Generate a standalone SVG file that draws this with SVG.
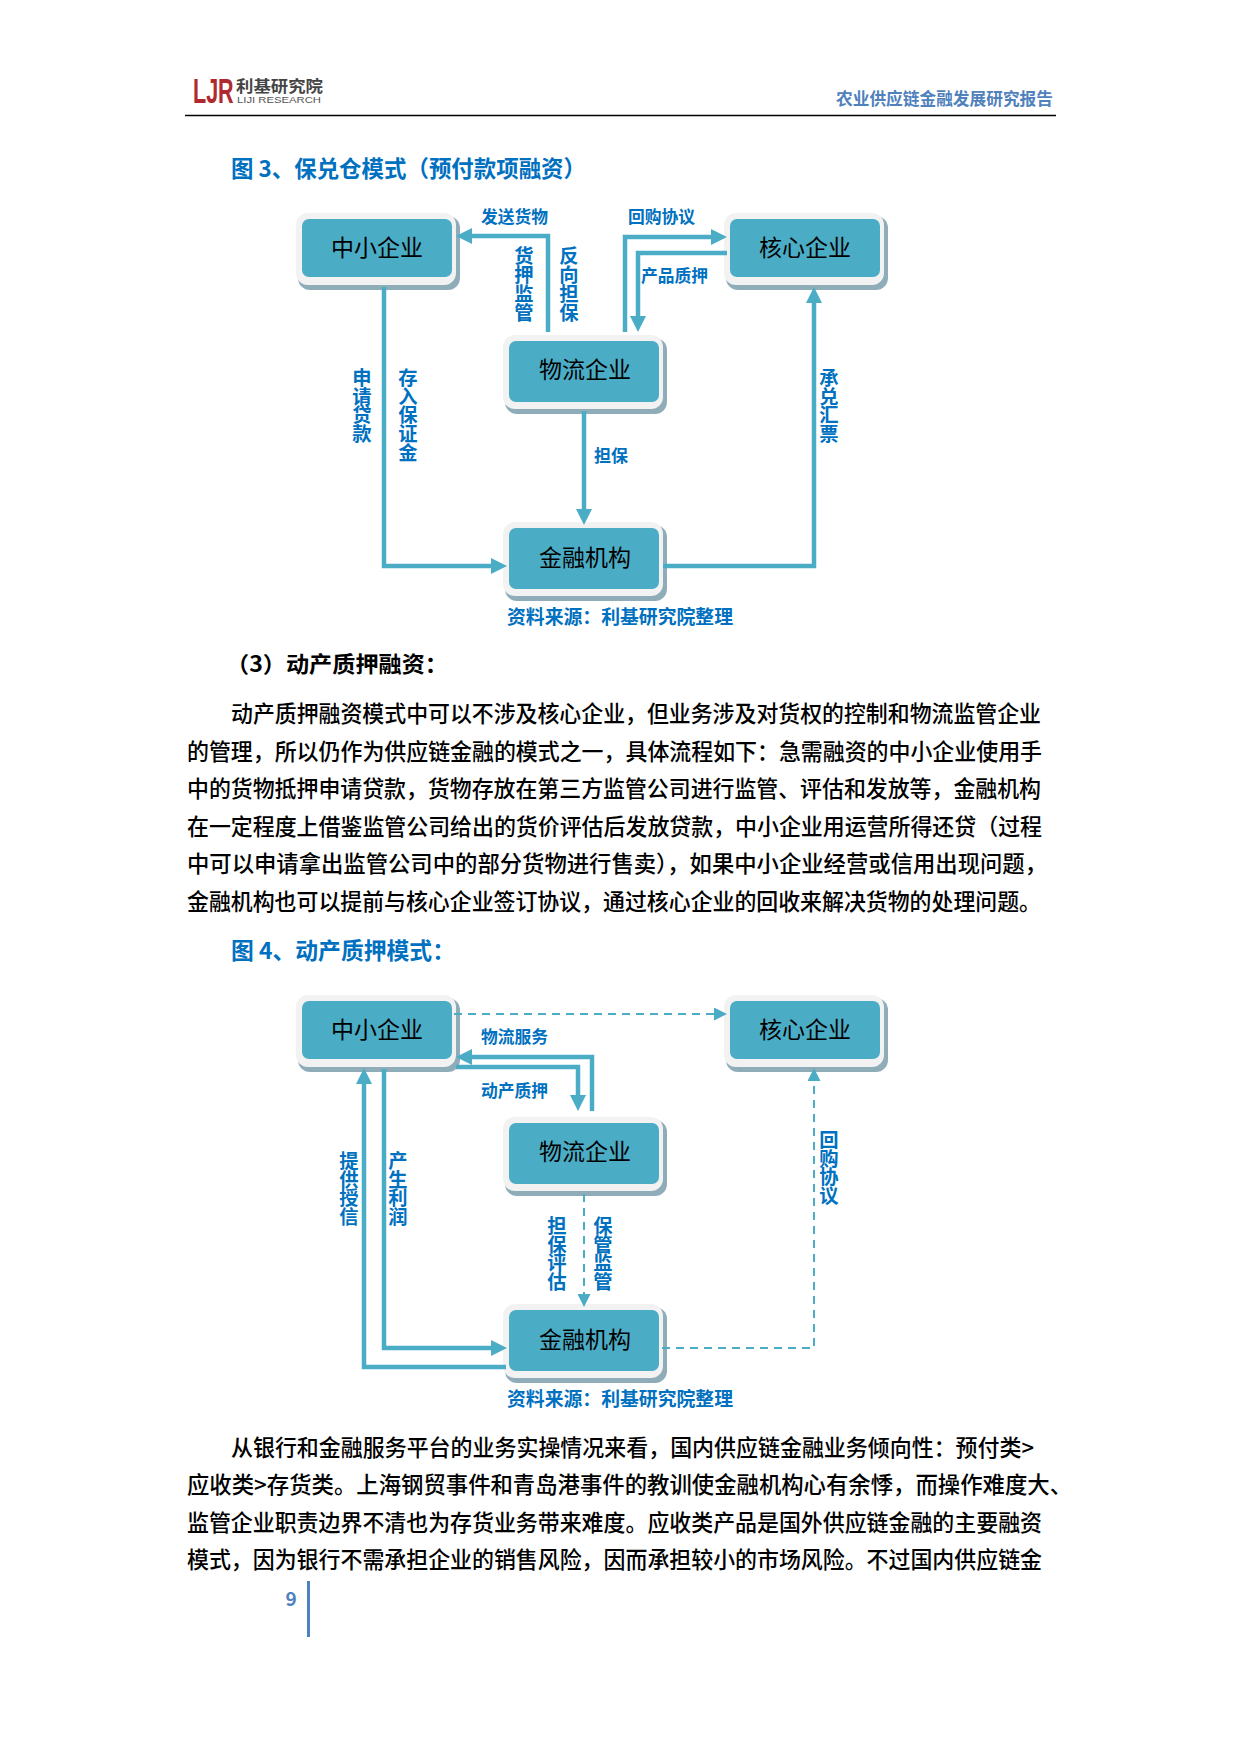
<svg xmlns="http://www.w3.org/2000/svg" width="1240" height="1754" viewBox="0 0 1240 1754">
<style>
text{font-family:"Noto Sans CJK SC","Liberation Sans",sans-serif;dominant-baseline:central}
.shadow{fill:#8fadb9}
.outer{fill:#f2f2f2}
.inner{fill:#4bacc6}
.nt{font-size:23px;fill:#000;text-anchor:middle}
.lb{font-size:17px;font-weight:700;fill:#0070c0}
.v{font-size:19.3px;font-weight:700;fill:#0070c0;text-anchor:middle}
.src{font-size:19px;font-weight:700;fill:#0070c0}
.cap{font-size:23px;font-weight:700;fill:#0070c0}
.body{font-size:22.5px;font-weight:500;fill:#000}
.sub{font-size:22px;font-weight:700;fill:#000}
.solid{fill:none;stroke:#4bacc6;stroke-width:4.5;marker-end:url(#big)}
.dash{fill:none;stroke:#4bacc6;stroke-width:2;stroke-dasharray:8 6;marker-end:url(#small)}
</style>
<defs>
<marker id="big" markerUnits="userSpaceOnUse" viewBox="0 0 16 16" markerWidth="16" markerHeight="16" refX="0" refY="8" orient="auto"><path d="M0 0L16 8L0 16Z" fill="#4bacc6"/></marker>
<marker id="small" markerUnits="userSpaceOnUse" viewBox="0 0 13 13" markerWidth="13" markerHeight="13" refX="0" refY="6.5" orient="auto"><path d="M0 0L13 6.5L0 13Z" fill="#4bacc6"/></marker>
<g id="box-wide">
<rect class="shadow" x="2" y="3" width="162" height="74" rx="12"/>
<rect class="outer" x="0" y="0" width="160" height="72" rx="12"/>
<rect class="inner" x="6" y="6" width="150" height="58" rx="7"/>
</g>
<g id="box-tall">
<rect class="shadow" x="2" y="3" width="162" height="76" rx="12"/>
<rect class="outer" x="0" y="0" width="160" height="74" rx="12"/>
<rect class="inner" x="6" y="6" width="150" height="61" rx="7"/>
</g>
</defs>
<rect width="1240" height="1754" fill="#fff"/>

<g id="header">
<text transform="translate(193 103) scale(1 1.65)" x="0" y="0" font-size="21.5" font-weight="700" style="font-family:'Liberation Sans',sans-serif;fill:#b0292e;dominant-baseline:auto">LJR</text>
<text x="236" y="85" font-size="16" font-weight="700" fill="#444" textLength="87" lengthAdjust="spacingAndGlyphs">利基研究院</text>
<text x="237" y="99" font-size="9.5" fill="#555" textLength="84" lengthAdjust="spacingAndGlyphs" style="font-family:'Liberation Sans',sans-serif">LIJI RESEARCH</text>
<text x="836" y="97" font-size="17" font-weight="700" fill="#4f81bd" textLength="217" lengthAdjust="spacingAndGlyphs">农业供应链金融发展研究报告</text>
<line x1="185" y1="115.5" x2="1056" y2="115.5" stroke="#000" stroke-width="1.5"/>
</g>

<text class="cap" x="231" y="167" textLength="355" lengthAdjust="spacingAndGlyphs">图 3、保兑仓模式（预付款项融资）</text>

<g id="f3-sme"><use href="#box-wide" x="296" y="213"/><text class="nt" x="377" y="246">中小企业</text></g>
<g id="f3-core"><use href="#box-wide" x="724" y="213"/><text class="nt" x="805" y="246">核心企业</text></g>
<g id="f3-logistics"><use href="#box-tall" x="503" y="335"/><text class="nt" x="585" y="368">物流企业</text></g>
<g id="f3-finance"><use href="#box-tall" x="503" y="522"/><text class="nt" x="585" y="556">金融机构</text></g>

<g id="connectors-fig3">
<path class="solid" d="M548 332V236H472"/>
<path class="solid" d="M625 332V237H711"/>
<path class="solid" d="M727 253H638V316"/>
<path class="solid" d="M384 287V566H491"/>
<path class="solid" d="M584 411V509"/>
<path class="solid" d="M663 566H814V303"/>
</g>

<g id="labels-fig3">
<text class="lb" x="481" y="215" textLength="67" lengthAdjust="spacingAndGlyphs">发送货物</text>
<text class="lb" x="628" y="215" textLength="67" lengthAdjust="spacingAndGlyphs">回购协议</text>
<text class="lb" x="641" y="274" textLength="67" lengthAdjust="spacingAndGlyphs">产品质押</text>
<text class="lb" x="594" y="454" textLength="34" lengthAdjust="spacingAndGlyphs">担保</text>
<text class="v" x="524 524 524 524" y="255 274 293 312">货押监管</text>
<text class="v" x="569 569 569 569" y="255 274 293 312">反向担保</text>
<text class="v" x="362 362 362 362" y="377 396 414 433">申请贷款</text>
<text class="v" x="408 408 408 408 408" y="377 396 414 433 452">存入保证金</text>
<text class="v" x="829 829 829 829" y="377 396 414 433">承兑汇票</text>
<text class="src" x="507" y="615" textLength="226" lengthAdjust="spacingAndGlyphs">资料来源：利基研究院整理</text>
</g>

<text class="sub" x="226" y="662" textLength="222" lengthAdjust="spacingAndGlyphs">（3）动产质押融资：</text>

<g id="para1">
<text class="body" x="231" y="712" textLength="810" lengthAdjust="spacingAndGlyphs">动产质押融资模式中可以不涉及核心企业，但业务涉及对货权的控制和物流监管企业</text>
<text class="body" x="187" y="750" textLength="855" lengthAdjust="spacingAndGlyphs">的管理，所以仍作为供应链金融的模式之一，具体流程如下：急需融资的中小企业使用手</text>
<text class="body" x="187" y="787" textLength="854" lengthAdjust="spacingAndGlyphs">中的货物抵押申请贷款，货物存放在第三方监管公司进行监管、评估和发放等，金融机构</text>
<text class="body" x="187" y="825" textLength="855" lengthAdjust="spacingAndGlyphs">在一定程度上借鉴监管公司给出的货价评估后发放贷款，中小企业用运营所得还贷（过程</text>
<text class="body" x="187" y="862" textLength="860" lengthAdjust="spacingAndGlyphs">中可以申请拿出监管公司中的部分货物进行售卖），如果中小企业经营或信用出现问题，</text>
<text class="body" x="187" y="900" textLength="854" lengthAdjust="spacingAndGlyphs">金融机构也可以提前与核心企业签订协议，通过核心企业的回收来解决货物的处理问题。</text>
</g>

<text class="cap" x="231" y="949" textLength="224" lengthAdjust="spacingAndGlyphs">图 4、动产质押模式：</text>

<g id="f4-sme"><use href="#box-wide" x="296" y="995"/><text class="nt" x="377" y="1028">中小企业</text></g>
<g id="f4-core"><use href="#box-wide" x="724" y="995"/><text class="nt" x="805" y="1028">核心企业</text></g>
<g id="f4-logistics"><use href="#box-tall" x="503" y="1117"/><text class="nt" x="585" y="1150">物流企业</text></g>
<g id="f4-finance"><use href="#box-tall" x="503" y="1304"/><text class="nt" x="585" y="1338">金融机构</text></g>

<g id="connectors-fig4">
<path class="dash" d="M454 1014H714"/>
<path class="solid" d="M592 1111V1057H472"/>
<path class="solid" d="M456 1067H578V1095"/>
<path class="solid" d="M506 1367H364V1084"/>
<path class="solid" d="M384 1069V1348H491"/>
<path class="dash" d="M584 1194V1294"/>
<path class="dash" d="M662 1348H814V1081"/>
</g>

<g id="labels-fig4">
<text class="lb" x="481" y="1035" textLength="67" lengthAdjust="spacingAndGlyphs">物流服务</text>
<text class="lb" x="481" y="1089" textLength="67" lengthAdjust="spacingAndGlyphs">动产质押</text>
<text class="v" x="349 349 349 349" y="1160 1179 1197 1216">提供授信</text>
<text class="v" x="398 398 398 398" y="1160 1179 1197 1216">产生利润</text>
<text class="v" x="557 557 557 557" y="1225 1244 1262 1281">担保评估</text>
<text class="v" x="603 603 603 603" y="1225 1244 1262 1281">保管监管</text>
<text class="v" x="829 829 829 829" y="1139 1158 1176 1195">回购协议</text>
<text class="src" x="507" y="1397" textLength="226" lengthAdjust="spacingAndGlyphs">资料来源：利基研究院整理</text>
</g>

<g id="para2">
<text class="body" x="231" y="1446" textLength="803" lengthAdjust="spacingAndGlyphs">从银行和金融服务平台的业务实操情况来看，国内供应链金融业务倾向性：预付类&gt;</text>
<text class="body" x="187" y="1483" textLength="885" lengthAdjust="spacingAndGlyphs">应收类&gt;存货类。上海钢贸事件和青岛港事件的教训使金融机构心有余悸，而操作难度大、</text>
<text class="body" x="187" y="1521" textLength="855" lengthAdjust="spacingAndGlyphs">监管企业职责边界不清也为存货业务带来难度。应收类产品是国外供应链金融的主要融资</text>
<text class="body" x="187" y="1558" textLength="855" lengthAdjust="spacingAndGlyphs">模式，因为银行不需承担企业的销售风险，因而承担较小的市场风险。不过国内供应链金</text>
</g>

<g id="footer">
<text x="291" y="1597" font-size="19" font-weight="700" fill="#4f81bd" text-anchor="middle">9</text>
<line x1="308.5" y1="1581" x2="308.5" y2="1637" stroke="#4f81bd" stroke-width="3"/>
</g>
</svg>
